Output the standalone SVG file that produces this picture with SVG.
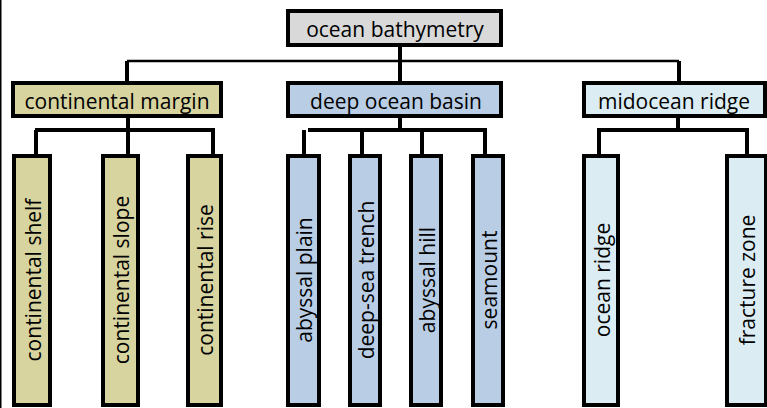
<svg xmlns="http://www.w3.org/2000/svg" width="767" height="408" viewBox="0 0 767 408">
<style>
  .box { stroke: #000; stroke-width: 4; }
  .root { fill: #d9d9d9; }
  .cm { fill: #d7d49f; }
  .db { fill: #b9cde4; }
  .mr { fill: #dbedf3; }
  .lbl { font-family: "Open Sans", "Noto Sans", sans-serif; font-size: 21px; fill: #000; text-anchor: middle; }
  .con { stroke: #000; stroke-width: 4; fill: none; }
  .thin { stroke-width: 2.5; }
</style>
<rect width="767" height="408" fill="#fff"/>
<line x1="0.75" y1="0" x2="0.75" y2="408" stroke="#000" stroke-width="1.5"/>

<g id="connectors">
  <path class="con" d="M400 47 V81"/>
  <path class="con thin" d="M127 61 H679"/>
  <path class="con" d="M127 61 V81 M679 61 V81"/>
  <path class="con" d="M128 118 V130 M35 130 H215 M36 130 V154 M128 130 V154 M213 130 V154"/>
  <path class="con" d="M400 118 V130 M308 130 H487 M304 130 V154 M362 130 V154 M422 130 V154 M485 130 V154"/>
  <path class="con" d="M678 118 V130 M597 130 H749 M599 130 V154 M747 130 V154"/>
</g>

<g id="ocean-bathymetry">
  <rect class="box root" x="288" y="11" width="213" height="34"/>
  <text class="lbl" x="395" y="36.5">ocean bathymetry</text>
</g>

<g id="continental-margin">
  <rect class="box cm" x="13" y="83" width="208" height="33"/>
  <text class="lbl" x="117" y="109">continental margin</text>
</g>
<g id="deep-ocean-basin">
  <rect class="box db" x="288" y="83" width="213" height="33"/>
  <text class="lbl" x="396" y="109">deep ocean basin</text>
</g>
<g id="midocean-ridge">
  <rect class="box mr" x="584" y="83" width="181" height="33"/>
  <text class="lbl" x="674" y="109">midocean ridge</text>
</g>

<g id="continental-shelf">
  <rect class="box cm" x="14" y="156" width="36" height="249"/>
  <text class="lbl" transform="translate(32,280) rotate(-90)" y="8.5">continental shelf</text>
</g>
<g id="continental-slope">
  <rect class="box cm" x="103" y="156" width="35" height="249"/>
  <text class="lbl" transform="translate(120.5,280) rotate(-90)" y="8.5">continental slope</text>
</g>
<g id="continental-rise">
  <rect class="box cm" x="188" y="156" width="33" height="249"/>
  <text class="lbl" transform="translate(204.5,280) rotate(-90)" y="8.5">continental rise</text>
</g>

<g id="abyssal-plain">
  <rect class="box db" x="288" y="156" width="31" height="249"/>
  <text class="lbl" transform="translate(303.5,280) rotate(-90)" y="8.5">abyssal plain</text>
</g>
<g id="deep-sea-trench">
  <rect class="box db" x="350" y="156" width="30" height="249"/>
  <text class="lbl" transform="translate(365,280) rotate(-90)" y="8.5">deep-sea trench</text>
</g>
<g id="abyssal-hill">
  <rect class="box db" x="411" y="156" width="30" height="249"/>
  <text class="lbl" transform="translate(426,280) rotate(-90)" y="8.5">abyssal hill</text>
</g>
<g id="seamount">
  <rect class="box db" x="473" y="156" width="30" height="249"/>
  <text class="lbl" transform="translate(488,280) rotate(-90)" y="8.5">seamount</text>
</g>

<g id="ocean-ridge">
  <rect class="box mr" x="584" y="156" width="34" height="249"/>
  <text class="lbl" transform="translate(601,280) rotate(-90)" y="8.5">ocean ridge</text>
</g>
<g id="fracture-zone">
  <rect class="box mr" x="727" y="156" width="39" height="249"/>
  <text class="lbl" transform="translate(746,280) rotate(-90)" y="8.5">fracture zone</text>
</g>
</svg>
